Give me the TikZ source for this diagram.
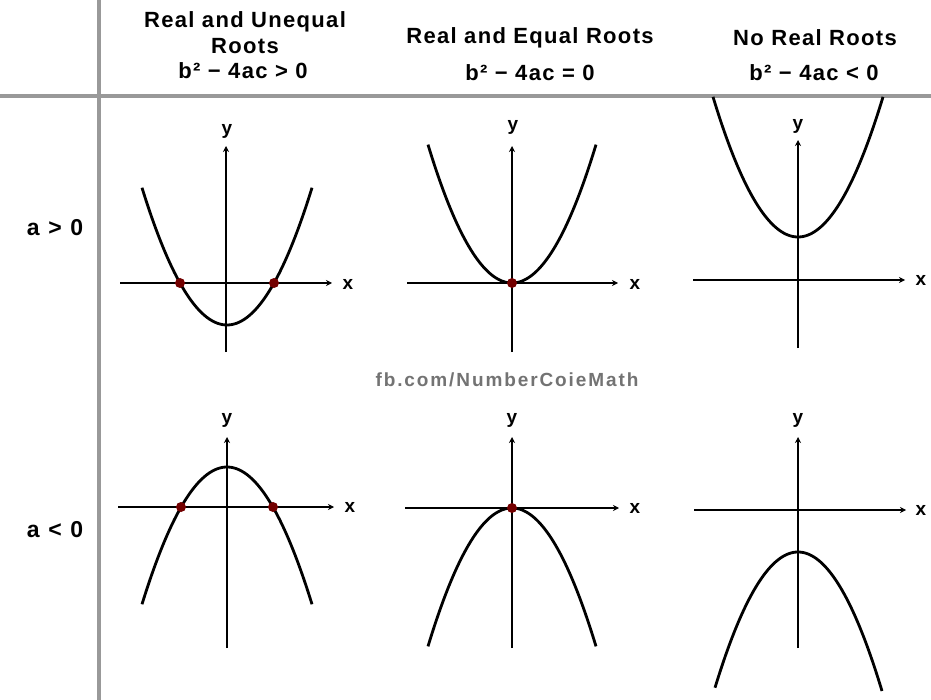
\documentclass[tikz,border=0pt]{standalone}
\usepackage{fontspec}
\setmainfont{Liberation Sans}
\newfontfamily\widefont[LetterSpace=6]{Liberation Sans}
\newfontfamily\markfont[LetterSpace=10]{Liberation Sans}
\usetikzlibrary{arrows.meta}
\begin{document}
\begin{tikzpicture}[x=1pt,y=-1pt,
  head/.style={font=\widefont\fontsize{22}{24}\selectfont\bfseries, align=center, inner sep=0pt},
  rowlab/.style={font=\markfont\fontsize{23}{24}\selectfont\bfseries, inner sep=0pt},
  axlab/.style={font=\fontsize{19}{20}\selectfont\bfseries, inner sep=0pt},
  axis/.style={line width=2.6pt, -{Stealth[length=6pt,width=6pt]}},
  curve/.style={line width=2.8pt, samples=80, smooth},
  root/.style={circle, fill=red!45!black, minimum size=10pt, inner sep=0pt},
  grid/.style={line width=3.5pt, draw=black!40}]
\useasboundingbox (0,0) rectangle (931,700);
\fill[white] (0,0) rectangle (931,700);
% grid lines
\coordinate (vt) at (99,0);
\coordinate (vb) at (99,700);
\coordinate (hl) at (0,96);
\coordinate (hr) at (931,96);
\draw[grid] (vt) -- (vb);
\draw[grid] (hl) -- (hr);
% headers
\node[head] (h1a) at (245,22) {Real and Unequal};
\node[head] (h1b) at (245,46) {Roots};
\node[head] (h1c) at (243,71) {b² − 4ac > 0};
\node[head] (h2a) at (530,38) {Real and Equal Roots};
\node[head] (h2c) at (530,73) {b² − 4ac = 0};
\node[head] (h3a) at (815,38) {No Real Roots};
\node[head] (h3c) at (814,73) {b² − 4ac < 0};
% row labels
\node[rowlab] (r1) at (55,228) {a > 0};
\node[rowlab] (r2) at (55,530) {a < 0};
% watermark
\node[font=\markfont\fontsize{19}{20}\selectfont\bfseries, text=black!55, inner sep=0pt] (wm) at (507,380) {fb.com/NumberCoieMath};

% ---- top-left
\coordinate (a1l) at (120,283); \coordinate (a1r) at (332,283);
\coordinate (a1b) at (226,352); \coordinate (a1t) at (226,146);
\draw[axis] (a1l) -- (a1r);
\draw[axis] (a1b) -- (a1t);
\node[axlab] (x1) at (348,284) {x};
\node[axlab] (y1) at (227,131) {y};
\draw[curve, domain=142:312] plot (\x, {325-0.019*(\x-227)^2});
\node[root] (p1) at (180,283) {};
\node[root] (p2) at (274,283) {};

% ---- top-middle
\coordinate (a2l) at (407,283); \coordinate (a2r) at (618,283);
\coordinate (a2b) at (512,352); \coordinate (a2t) at (512,146);
\draw[axis] (a2l) -- (a2r);
\draw[axis] (a2b) -- (a2t);
\node[axlab] (x2) at (635,284) {x};
\node[axlab] (y2) at (513,127) {y};
\draw[curve, domain=428:596] plot (\x, {283-0.0196*(\x-512)^2});
\node[root] (p3) at (512,283) {};

% ---- top-right
\coordinate (a3l) at (693,280); \coordinate (a3r) at (905,280);
\coordinate (a3b) at (798,348); \coordinate (a3t) at (798,140);
\draw[axis] (a3l) -- (a3r);
\draw[axis] (a3b) -- (a3t);
\node[axlab] (x3) at (921,280) {x};
\node[axlab] (y3) at (798,126) {y};
\draw[curve, domain=713:883] plot (\x, {237-0.0194*(\x-798)^2});

% ---- bottom-left
\coordinate (b1l) at (118,507); \coordinate (b1r) at (334,507);
\coordinate (b1b) at (227,648); \coordinate (b1t) at (227,437);
\draw[axis] (b1l) -- (b1r);
\draw[axis] (b1b) -- (b1t);
\node[axlab] (x4) at (350,507) {x};
\node[axlab] (y4) at (227,420) {y};
\draw[curve, domain=142:312] plot (\x, {467+0.019*(\x-227)^2});
\node[root] (p4) at (181,507) {};
\node[root] (p5) at (273,507) {};

% ---- bottom-middle
\coordinate (b2l) at (405,508); \coordinate (b2r) at (619,508);
\coordinate (b2b) at (512,648); \coordinate (b2t) at (512,437);
\draw[axis] (b2l) -- (b2r);
\draw[axis] (b2b) -- (b2t);
\node[axlab] (x5) at (635,508) {x};
\node[axlab] (y5) at (512,420) {y};
\draw[curve, domain=428:596] plot (\x, {508+0.0196*(\x-512)^2});
\node[root] (p6) at (512,508) {};

% ---- bottom-right
\coordinate (b3l) at (694,510); \coordinate (b3r) at (906,510);
\coordinate (b3b) at (798,648); \coordinate (b3t) at (798,437);
\draw[axis] (b3l) -- (b3r);
\draw[axis] (b3b) -- (b3t);
\node[axlab] (x6) at (921,510) {x};
\node[axlab] (y6) at (798,420) {y};
\draw[curve, domain=715:882] plot (\x, {552+0.0197*(\x-798)^2});
\end{tikzpicture}
\end{document}
